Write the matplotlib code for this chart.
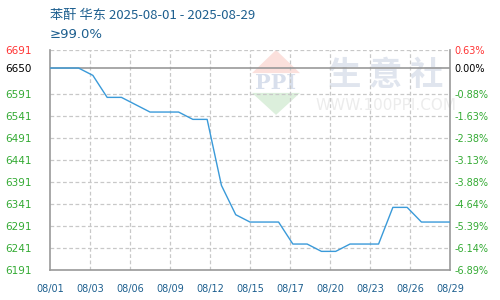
import numpy as np
import pandas as pd
import matplotlib.pyplot as plt
from matplotlib.patches import Polygon

plt.rcParams['font.family'] = ['Noto Sans CJK SC', 'DejaVu Sans']

# daily price, 苯酐 华东, August 2025
dates = pd.date_range('2025-08-01', '2025-08-29', freq='D').strftime('%m/%d').tolist()
prices = [6650, 6650, 6650, 6633.33, 6583.33, 6583.33, 6566.67, 6550, 6550, 6550,
          6533.33, 6533.33, 6383.33, 6316.67, 6300, 6300, 6300, 6250, 6250, 6233.33,
          6233.33, 6250, 6250, 6250, 6333.33, 6333.33, 6300, 6300, 6300]

left_ticks = [6691, 6650, 6591, 6541, 6491, 6441, 6391, 6341, 6291, 6241, 6191]
right_labels = ['0.63%', '0.00%', '-0.88%', '-1.63%', '-2.38%', '-3.13%',
                '-3.88%', '-4.64%', '-5.39%', '-6.14%', '-6.89%']

green = '#33aa33'
red = '#ff3333'
blue_txt = '#1d5f8f'
grid_c = '#c8c8c8'

fig = plt.figure(figsize=(5, 3), dpi=100)
ax = fig.add_axes([50 / 500, 30 / 300, 400 / 500, 220 / 300])

n = len(prices)
ax.set_xlim(0, n - 1)
ax.set_ylim(left_ticks[-1], left_ticks[0])

# watermark
wm = dict(transform=ax.transAxes, zorder=0)
ax.add_patch(Polygon([(0.565, 1.0), (0.625, 0.895), (0.505, 0.895)], closed=True,
                     facecolor='#fbe0dc', edgecolor='none', **wm))
ax.add_patch(Polygon([(0.505, 0.805), (0.625, 0.805), (0.565, 0.705)], closed=True,
                     facecolor='#dcefdc', edgecolor='none', **wm))
ax.text(0.565, 0.852, 'PPI', ha='center', va='center', fontsize=15, color='#d8dfec',
        fontweight='bold', family='DejaVu Serif', **wm)
ax.text(0.84, 0.885, '生 意 社', ha='center', va='center', fontsize=24, color='#e0e5ee',
        fontweight='bold', **wm)
ax.text(0.84, 0.75, 'WWW.100PPI.COM', ha='center', va='center', fontsize=11,
        color='#ececec', family='DejaVu Sans', **wm)

# grid
xt = np.linspace(0, n - 1, 11)
for x in xt[1:-1]:
    ax.axvline(x, color=grid_c, lw=0.9, ls=(0, (3, 2)), zorder=1)
for y in left_ticks:
    if y == 6650:
        ax.axhline(y, color='#999999', lw=1.2, zorder=1)
    elif y != left_ticks[-1]:
        ax.axhline(y, color=grid_c, lw=0.9, ls=(0, (3, 2)), zorder=1)

ax.plot(range(n), prices, color='#3a9ad9', lw=1.0, zorder=3)

for s in ['left', 'right', 'bottom']:
    ax.spines[s].set_color('#999999')
    ax.spines[s].set_linewidth(1.2)
ax.spines['top'].set_visible(False)

ax.set_xticks(xt)
ax.set_xticklabels([dates[int(np.floor(x + 1e-9))] for x in xt], fontsize=7,
                   color=blue_txt, family='DejaVu Sans')
ax.tick_params(axis='x', length=0, pad=10)

ax.set_yticks(left_ticks)
ax.set_yticklabels([str(v) for v in left_ticks], fontsize=7.5, family='DejaVu Sans')
for lab in ax.get_yticklabels():
    lab.set_horizontalalignment('left')
ax.tick_params(axis='y', length=0, pad=32)

ax2 = ax.twinx()
ax2.set_ylim(ax.get_ylim())
ax2.set_yticks(left_ticks)
ax2.set_yticklabels(right_labels, fontsize=7, family='DejaVu Sans')
ax2.tick_params(axis='y', length=0, pad=3)
for s in ax2.spines.values():
    s.set_visible(False)

for labs in (ax.get_yticklabels(), ax2.get_yticklabels()):
    for i, lab in enumerate(labs):
        lab.set_color(red if i == 0 else ('black' if i == 1 else green))

fig.text(50 / 500, 1 - 15 / 300, '苯酐 华东 2025-08-01 - 2025-08-29', fontsize=9.5,
         color=blue_txt, va='center', ha='left')
fig.text(50 / 500, 1 - 35 / 300, '≥99.0%', fontsize=9.5, color=blue_txt,
         va='center', ha='left', family=['DejaVu Sans'])

fig.savefig('out.png', dpi=100)
